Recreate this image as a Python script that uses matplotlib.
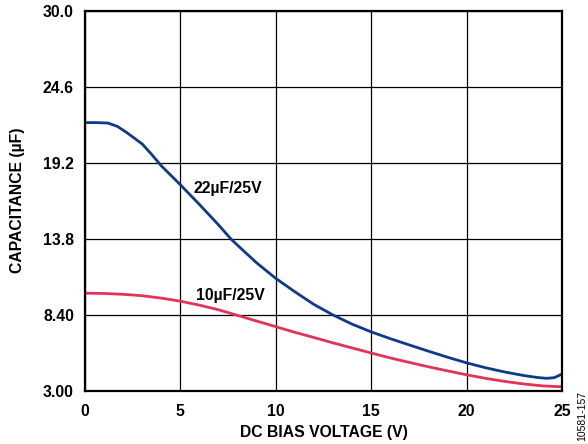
import matplotlib
matplotlib.use("Agg")
import matplotlib.pyplot as plt

plt.rcParams['font.family'] = ['Liberation Sans', 'DejaVu Sans']

voltage = [0, 0.6, 1.2, 1.7, 2.2, 2.6, 3, 3.5, 4, 5, 6, 7, 7.65, 8, 9, 10, 11, 12, 13, 14, 15,
           16, 17, 18, 19, 20, 21, 22, 23, 23.7, 24.2, 24.6, 25]
cap_22uF = [22.07, 22.07, 22.04, 21.8, 21.35, 20.95, 20.55, 19.8, 19.0, 17.65, 16.25, 14.8,
            13.8, 13.35, 12.1, 11.0, 10.05, 9.15, 8.4, 7.75, 7.2, 6.72, 6.27, 5.83,
            5.4, 5.0, 4.65, 4.35, 4.1, 3.96, 3.9, 3.95, 4.2]

voltage_10 = [0, 1, 2, 3, 4, 5, 6, 7, 8, 9, 10, 11, 12, 13, 14, 15, 16, 17, 18,
              19, 20, 21, 22, 23, 24, 25]
cap_10uF = [9.95, 9.93, 9.87, 9.77, 9.6, 9.38, 9.1, 8.77, 8.37, 7.97, 7.57, 7.17,
            6.8, 6.42, 6.06, 5.7, 5.35, 5.03, 4.72, 4.43, 4.15, 3.9, 3.68, 3.5,
            3.36, 3.3]

xticks = [0, 5, 10, 15, 20, 25]
yticks = [3.0, 8.4, 13.8, 19.2, 24.6, 30.0]
ytick_labels = ["3.00", "8.40", "13.8", "19.2", "24.6", "30.0"]

FS = 11.3

fig = plt.figure(figsize=(5.88, 4.44), dpi=100)
ax = fig.add_axes([85/588, 1-391/444, (562-85)/588, (391-11)/444])

ax.plot(voltage, cap_22uF, color="#0d3a8a", lw=2.0, solid_capstyle='round')
ax.plot(voltage_10, cap_10uF, color="#e2335a", lw=2.0, solid_capstyle='round')

ax.set_xlim(0, 25)
ax.set_ylim(3.0, 30.0)
ax.set_xticks(xticks)
ax.set_xticklabels([str(t) for t in xticks], fontsize=FS, fontweight='bold')
ax.set_yticks(yticks)
ax.set_yticklabels(ytick_labels, fontsize=FS, fontweight='bold')
ax.tick_params(axis='y', length=0, pad=8)
ax.tick_params(axis='x', length=0, pad=9)
ax.grid(True, color='black', lw=0.9)
for s in ax.spines.values():
    s.set_linewidth(1.6)
    s.set_color('black')

ax.text(5.7, 17.4, "22µF/25V", fontsize=FS, fontweight='bold', va='center', ha='left')
ax.text(5.8, 9.8, "10µF/25V", fontsize=FS, fontweight='bold', va='center', ha='left')

fig.text(18/588, 1-200/444, "CAPACITANCE (µF)", rotation=90, fontsize=FS,
         fontweight='bold', ha='center', va='center')
fig.text(324/588, 1-432.5/444, "DC BIAS VOLTAGE (V)", fontsize=FS,
         fontweight='bold', ha='center', va='center')
fig.text(582/588, 1-416/444, "10581-157", rotation=90, fontsize=7.5,
         ha='center', va='center')

fig.savefig("out.png", dpi=100)
